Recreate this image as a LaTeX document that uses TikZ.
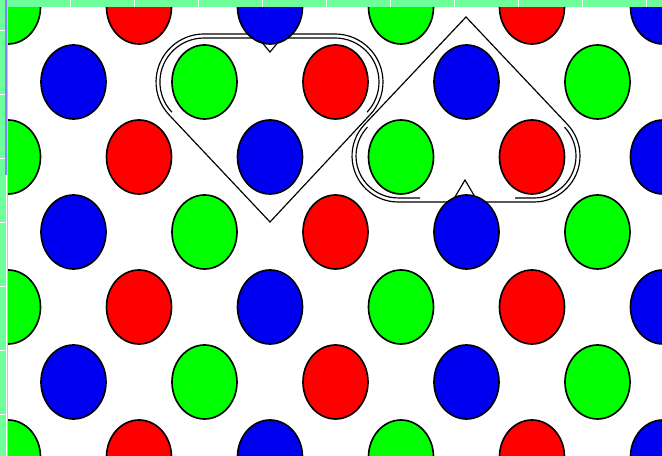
\documentclass[tikz,border=0pt]{standalone}
\definecolor{vertP}{RGB}{0,255,0}
\definecolor{rougeP}{RGB}{255,0,0}
\definecolor{bleuP}{RGB}{0,0,240}
\definecolor{regle}{RGB}{110,255,155}
\definecolor{curseur}{RGB}{130,130,255}
\newcommand{\pastille}[3]{\filldraw[fill=#3,line width=1.4pt] (#1,#2) ellipse (32.5 and 37);}
\newcommand{\regles}{%
  \fill[regle] (0,449) rectangle (662,456); \fill[regle] (0,0) rectangle (7.5,456);
  \fill[curseur] (5,281) rectangle (6.5,456); \fill[white] (5.5,0) rectangle (6.5,281);
  \foreach \x in {70,134,...,646} \fill[white] (\x,449) rectangle (\x+1.2,456);
  \foreach \y in {425,361,...,41} \fill[white] (0,\y) rectangle (5,\y+1.2);}

\begin{document}
\begin{tikzpicture}[x=0.03cm,y=0.03cm,line width=1pt]
  \useasboundingbox (0,0) rectangle (662,456);
  \fill[white] (0,0) rectangle (662,456);
  \begin{scope}
    \clip (7.5,0) rectangle (662,449);
    % coeur pointe en bas
    \draw (270,234) -- (169.1,341.1) arc (223.3:90:48) -- (255,422) -- (270,404) -- (285,422) -- (335,422) arc (90:-43.3:48) -- cycle;
    \draw (171.9,343.8) arc (223.3:90:44) -- (254,418);
    \draw (286,418) -- (335,418) arc (90:-43.3:44);
    % coeur pointe en haut
    \draw (466,439) -- (364.6,331.6) arc (136.63:270:46) -- (452,254) -- (465,276) -- (478,254) -- (534,254) arc (-90:43.37:46) -- cycle;
    \draw (367.5,328.9) arc (136.63:270:42) -- (420,258);
    \draw (515,258) -- (534,258) arc (-90:43.37:42);
    % pastilles
    \foreach \y in {449,299,149,-1}
      \foreach \c [count=\j from 0] in {vertP,rougeP,bleuP,vertP,rougeP,bleuP}
        {\pastille{8+131*\j}{\y}{\c}}
    \foreach \y in {374,224,74}
      \foreach \c [count=\j from 0] in {bleuP,vertP,rougeP,bleuP,vertP}
        {\pastille{73.5+131*\j}{\y}{\c}}
  \end{scope}
  \regles
\end{tikzpicture}
\end{document}
